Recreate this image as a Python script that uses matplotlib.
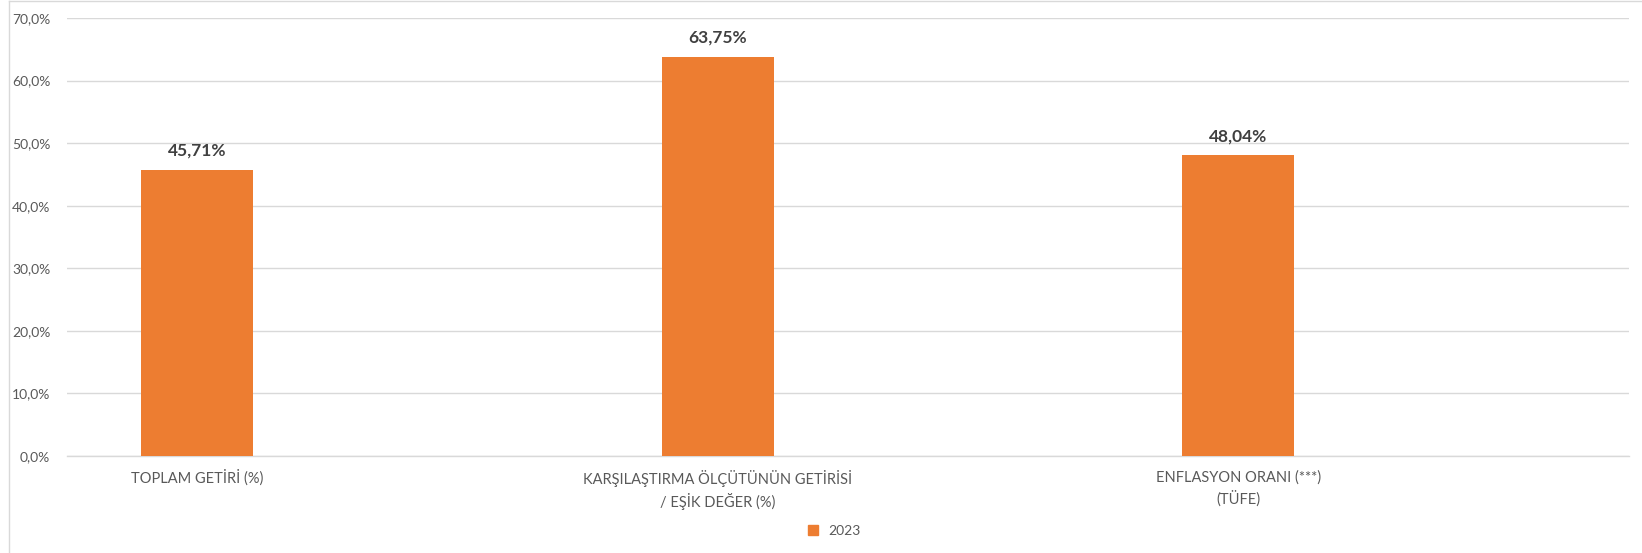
import matplotlib
matplotlib.use("Agg")
import matplotlib.pyplot as plt
from matplotlib.lines import Line2D
from matplotlib.ticker import FuncFormatter, MultipleLocator

categories = ["TOPLAM GETİRİ (%)",
              "KARŞILAŞTIRMA ÖLÇÜTÜNÜN GETİRİSİ\n/ EŞİK DEĞER (%)",
              "ENFLASYON ORANI (***)\n(TÜFE)"]
values_2023 = [45.71, 63.75, 48.04]
value_labels = ["45,71%", "63,75%", "48,04%"]
series_name = "2023"

plt.rcParams['font.family'] = ['Lato', 'DejaVu Sans']

W, H = 1642, 553
fig = plt.figure(figsize=(W / 100, H / 100), dpi=100)
ax = fig.add_axes([67 / W, 1 - 456 / H, (1629 - 67) / W, (456 - 18) / H])

bar_color = "#ED7D31"
x = list(range(len(categories)))
bars = ax.bar(x, values_2023, width=0.215, color=bar_color, zorder=3)

ax.set_xlim(-0.25, 2.751)
ax.set_ylim(0, 70)
ax.yaxis.set_major_locator(MultipleLocator(10))
ax.yaxis.set_major_formatter(FuncFormatter(lambda v, p: f"{v:.1f}%".replace(".", ",")))
ax.grid(axis="y", color="#d9d9d9", linewidth=1.0, zorder=0)
ax.set_axisbelow(True)
for s in ["top", "right", "left"]:
    ax.spines[s].set_visible(False)
ax.spines["bottom"].set_color("#d9d9d9")
ax.spines["bottom"].set_linewidth(1.0)

ax.set_xticks(x)
ax.set_xticklabels(categories, fontsize=10.5, color="#595959", linespacing=1.45)
ax.tick_params(axis="x", length=0, pad=10)
ax.tick_params(axis="y", length=0, pad=12, labelsize=10, labelcolor="#595959")

for b, lab in zip(bars, value_labels):
    ax.annotate(lab, (b.get_x() + b.get_width() / 2, b.get_height()),
                xytext=(0, 8), textcoords="offset points",
                ha="center", va="bottom", fontsize=12.5, fontweight="bold",
                color="#404040")

handle = Line2D([], [], marker="s", linestyle="none", markersize=7,
                markerfacecolor=bar_color, markeredgecolor=bar_color)
fig.legend([handle], [series_name], loc="center", bbox_to_anchor=(830 / W, 1 - 531 / H),
           frameon=False, fontsize=10, handletextpad=0.1, labelcolor="#595959")

# chart border (left and top visible)
fig.add_artist(Line2D([8.5 / W, 8.5 / W], [0, 1 - 1 / H], transform=fig.transFigure,
                      color="#d9d9d9", linewidth=1.0))
fig.add_artist(Line2D([8.5 / W, 1], [1 - 1 / H, 1 - 1 / H], transform=fig.transFigure,
                      color="#d9d9d9", linewidth=1.0))

fig.savefig("out.png", dpi=100)
